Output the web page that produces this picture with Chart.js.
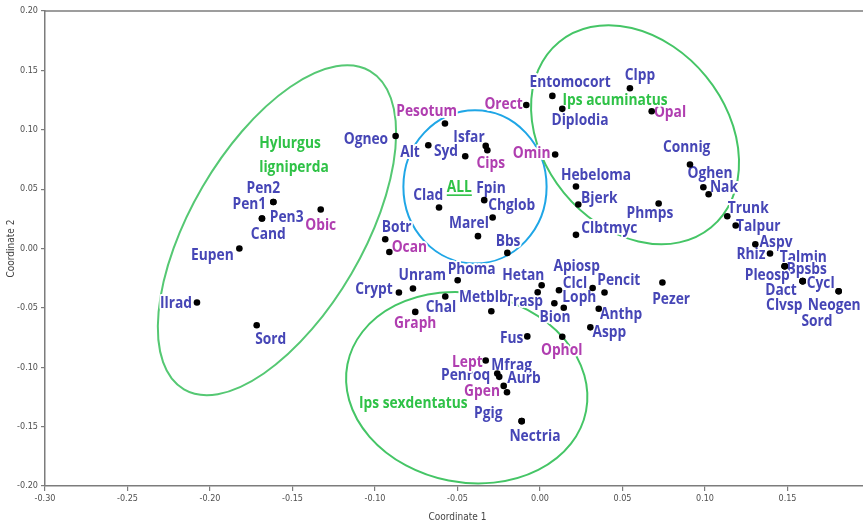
<!DOCTYPE html>
<html>
<head>
<meta charset="utf-8">
<script src="https://cdn.jsdelivr.net/npm/chart.js@4/dist/chart.umd.min.js"></script>
<style>
  html, body { margin: 0; padding: 0; background: #fff; overflow: hidden; }
  #wrap { width: 900px; height: 523px; }
</style>
</head>
<body>
<div id="wrap"><canvas id="c" width="900" height="523"></canvas></div>
<script>
// Ordination scores (Coordinate 1, Coordinate 2) for each taxon.
const fungiNames = ['Pen1','Pen2','Pen3','Cand','Eupen','Ilrad','Sord','Ogneo','Alt','Syd','Isfar','Clad','Fpin','Chglob','Marel','Bbs','Botr','Entomocort','Diplodia','Clpp','Connig','Oghen','Nak','Hebeloma','Bjerk','Phmps','Clbtmyc','Trunk','Talpur','Aspv','Rhiz','Talmin','Bpsbs','Pleosp','Cycl','Dact','Clvsp','Neogen','Sord','Pezer','Hetan','Trasp','Clcl','Apiosp','Pencit','Loph','Bion','Anthp','Aspp','Fus','Crypt','Unram','Phoma','Chal','Metblb','Mfrag','Penroq','Aurb','Pgig','Nectria'];
const fungiX = [-0.1616,-0.1616,-0.1685,-0.1685,-0.1822,-0.2079,-0.1717,-0.0875,-0.0677,-0.0453,-0.0329,-0.0612,-0.0338,-0.0287,-0.0376,-0.0198,-0.0938,0.0075,0.0135,0.0545,0.0909,0.0990,0.1022,0.0218,0.0232,0.0719,0.0218,0.1135,0.1186,0.1305,0.1394,0.1483,0.1483,0.1483,0.1592,0.1592,0.1592,0.1810,0.1810,0.0742,0.0010,-0.0014,0.0115,0.0319,0.0391,0.0144,0.0087,0.0356,0.0305,-0.0077,-0.0855,-0.0770,-0.0499,-0.0574,-0.0295,-0.0259,-0.0247,-0.0220,-0.0111,-0.0111];
const fungiY = [0.0392,0.0392,0.0253,0.0253,0.0000,-0.0455,-0.0646,0.0948,0.0870,0.0777,0.0864,0.0345,0.0407,0.0261,0.0104,-0.0037,0.0078,0.1285,0.1176,0.1350,0.0707,0.0516,0.0457,0.0522,0.0371,0.0379,0.0115,0.0272,0.0194,0.0036,-0.0042,-0.0149,-0.0149,-0.0149,-0.0275,-0.0275,-0.0275,-0.0360,-0.0360,-0.0286,-0.0309,-0.0368,-0.0351,-0.0332,-0.0371,-0.0499,-0.0461,-0.0507,-0.0664,-0.0740,-0.0371,-0.0337,-0.0267,-0.0404,-0.0528,-0.1053,-0.1081,-0.1157,-0.1454,-0.1454];

const ophioNames = ['Obic','Pesotum','Cips','Ocan','Orect','Omin','Opal','Graph','Lept','Gpen','Ophol'];
const ophioX = [-0.1329,-0.0576,-0.0319,-0.0913,-0.0083,0.0092,0.0677,-0.0756,-0.0329,-0.0200,0.0135];
const ophioY = [0.0328,0.1053,0.0828,-0.0029,0.1209,0.0792,0.1156,-0.0534,-0.0943,-0.1210,-0.0743];

// Beetle group captions, placed in data units.
const groupNames = ['Hylurgus','ligniperda','Ips acuminatus','ALL','Ips sexdentatus'];
const groupX = [-0.1515,-0.1491,0.0455,-0.0489,-0.0768];
const groupY = [0.0889,0.0693,0.1257,0.0519,-0.1297];

// Group ellipses: centre and two conjugate semi-axes, in data units.
const ellipseCenterX = [-0.1594,-0.0394,0.0576,-0.0444];
const ellipseCenterY = [0.0154,0.0519,0.0958,-0.1172];
const ellipseAxisU = [[0.0564,0.1340],[0.0434,0],[0.0460,-0.0781],[0.0723,-0.0197]];
const ellipseAxisV = [[0.0451,-0.0366],[0,0.0646],[-0.0431,-0.0490],[-0.0110,-0.0782]];

// Axis ranges and tick values.
const xRange = [-0.30, 0.20];
const yRange = [-0.20, 0.20];
const xTicks = [-0.30,-0.25,-0.20,-0.15,-0.10,-0.05,0.00,0.05,0.10,0.15];
const yTicks = [-0.20,-0.15,-0.10,-0.05,0.00,0.05,0.10,0.15,0.20];

// ---- presentation ----
const BLUE = '#4646b6';
const PURPLE = '#b03eb0';
const GREEN = '#2fc247';
const ELLIPSE_COLORS = ['#55c873','#1fa6e6','#45c566','#45c566'];
const AXIS_GRAY = '#7c7c7c';

// Label nudges (pixels) from each point to the centre of its name.
const fungiLabelShift = [[-24,1.6],[-10,-14.4],[24.7,-2.3],[6.3,15],[-27,6],[-21,0],[14,13.3],[-29.7,2.3],[-18.3,6.7],[-19.3,-6],[-16.7,-9.7],[-10.7,-13.3],[6.7,-12.7],[19,-13.3],[-9,-13.3],[0.7,-12.7],[11.4,-13],[17.7,-14.7],[17.7,10.6],[10,-14],[-3.3,-18.3],[6.7,-14.3],[15.3,-7.3],[20,-12.3],[21,-6.6],[-8.7,8.7],[33.3,-7],[21,-8.3],[22.6,0],[20.7,-3],[-19,0],[18.6,-10],[22,2.7],[-17.4,8.7],[18,1],[-21.7,8.3],[-18.4,23.3],[-4.4,13.3],[-21.7,29],[8.7,16.4],[-18.4,-11],[-13.7,8],[16,-7.7],[-16,-22.7],[14.3,-13],[15.6,-11],[0.7,13.7],[22.3,4.4],[19,4],[-15.6,1],[-25,-4],[9.3,-14],[14,-11.7],[-4.3,9.7],[-8,-15],[14.4,-9.3],[-33.6,-2.4],[20.3,-8],[-33.4,-8.7],[13.3,14]];
const ophioLabelShift = [[0,15],[-18.3,-12.6],[3.4,12.7],[20,-5],[-22.7,-1.7],[-23.6,-1.6],[18.3,0],[0,11],[-18.4,0.7],[-25,-2],[-0.6,12.6]];

const LABEL_FONT = 'bold 16px "Open Sans", "Noto Sans", sans-serif';
const LABEL_SQUEEZE = 0.86;

function drawName(ctx, text, cx, cy, color, underline) {
  ctx.save();
  ctx.translate(cx, cy);
  ctx.scale(LABEL_SQUEEZE, 1);
  ctx.font = LABEL_FONT;
  ctx.textAlign = 'center';
  ctx.textBaseline = 'alphabetic';
  ctx.lineJoin = 'round';
  ctx.lineWidth = 4;
  ctx.strokeStyle = '#ffffff';
  ctx.strokeText(text, 0, 5.5);
  ctx.fillStyle = color;
  ctx.fillText(text, 0, 5.5);
  if (underline) {
    const w = ctx.measureText(text).width;
    ctx.fillRect(-w / 2, 7.5, w, 1.6);
  }
  ctx.restore();
}

const ordinationDecor = {
  id: 'ordinationDecor',
  beforeDatasetsDraw(chart) {
    const { ctx, chartArea, scales } = chart;
    const xs = scales.x, ys = scales.y;

    // frame line along the top of the plot
    ctx.save();
    ctx.strokeStyle = AXIS_GRAY;
    ctx.lineWidth = 1.5;
    ctx.beginPath();
    ctx.moveTo(chartArea.left, chartArea.top);
    ctx.lineTo(chartArea.right, chartArea.top);
    ctx.stroke();
    ctx.restore();

    // group ellipses
    ellipseCenterX.forEach((ex, i) => {
      const ey = ellipseCenterY[i];
      const cx = xs.getPixelForValue(ex), cy = ys.getPixelForValue(ey);
      const u = ellipseAxisU[i], v = ellipseAxisV[i];
      const ux = xs.getPixelForValue(ex + u[0]) - cx, uy = ys.getPixelForValue(ey + u[1]) - cy;
      const vx = xs.getPixelForValue(ex + v[0]) - cx, vy = ys.getPixelForValue(ey + v[1]) - cy;
      ctx.save();
      ctx.beginPath();
      ctx.transform(ux, uy, vx, vy, cx, cy);
      ctx.arc(0, 0, 1, 0, Math.PI * 2);
      ctx.restore();
      ctx.save();
      ctx.strokeStyle = ELLIPSE_COLORS[i];
      ctx.lineWidth = 2;
      ctx.stroke();
      ctx.restore();
    });

    // taxon names next to their points
    const put = (datasetIndex, names, shifts, color) => {
      const meta = chart.getDatasetMeta(datasetIndex);
      meta.data.forEach((pt, i) => {
        drawName(ctx, names[i], pt.x + shifts[i][0], pt.y + shifts[i][1], color, false);
      });
    };
    put(0, fungiNames, fungiLabelShift, BLUE);
    put(1, ophioNames, ophioLabelShift, PURPLE);

    // beetle group captions
    groupNames.forEach((g, i) => {
      drawName(ctx, g, xs.getPixelForValue(groupX[i]), ys.getPixelForValue(groupY[i]), GREEN, g === 'ALL');
    });
  }
};

const tickFont = { family: "'Liberation Sans Narrow', 'DejaVu Sans Condensed', 'Roboto Condensed', Roboto, sans-serif", size: 9 };
const fmt = v => (Math.abs(v) < 1e-9 ? 0 : v).toFixed(2);

new Chart(document.getElementById('c'), {
  type: 'scatter',
  data: {
    datasets: [
      { label: 'fungi', data: fungiNames.map((n, i) => ({ x: fungiX[i], y: fungiY[i] })),
        backgroundColor: '#000', borderWidth: 0, pointRadius: 3.3, pointHoverRadius: 3.3 },
      { label: 'ophiostomatoid', data: ophioNames.map((n, i) => ({ x: ophioX[i], y: ophioY[i] })),
        backgroundColor: '#000', borderWidth: 0, pointRadius: 3.3, pointHoverRadius: 3.3 }
    ]
  },
  options: {
    responsive: false,
    devicePixelRatio: 1,
    animation: false,
    layout: { padding: { left: 0, right: 30, top: 11, bottom: 0 } },
    plugins: { legend: { display: false }, tooltip: { enabled: false } },
    scales: {
      x: {
        type: 'linear', min: xRange[0], max: xRange[1],
        afterBuildTicks: s => { s.ticks = xTicks.map(v => ({ value: v })); },
        afterFit: s => { s.height = 37; },
        ticks: { font: tickFont, color: '#505050', padding: 2, maxRotation: 0, callback: fmt },
        grid: { display: true, drawOnChartArea: false, drawTicks: true, tickLength: 5, color: AXIS_GRAY, lineWidth: 1.2 },
        border: { display: true, color: AXIS_GRAY, width: 1.5 },
        title: { display: true, text: 'Coordinate 1', color: '#444', font: { family: tickFont.family, size: 10 }, padding: { top: 0, bottom: 0 } }
      },
      y: {
        type: 'linear', min: yRange[0], max: yRange[1],
        afterBuildTicks: s => { s.ticks = yTicks.map(v => ({ value: v })); },
        afterFit: s => { s.width = 45; },
        ticks: { font: tickFont, color: '#505050', padding: 3, callback: fmt },
        grid: { display: true, drawOnChartArea: false, drawTicks: true, tickLength: 4, color: AXIS_GRAY, lineWidth: 1.2 },
        border: { display: true, color: AXIS_GRAY, width: 1.5 },
        title: { display: true, text: 'Coordinate 2', color: '#444', font: { family: tickFont.family, size: 10 }, padding: { top: 5, bottom: 0 } }
      }
    }
  },
  plugins: [ordinationDecor]
});
</script>
</body>
</html>
